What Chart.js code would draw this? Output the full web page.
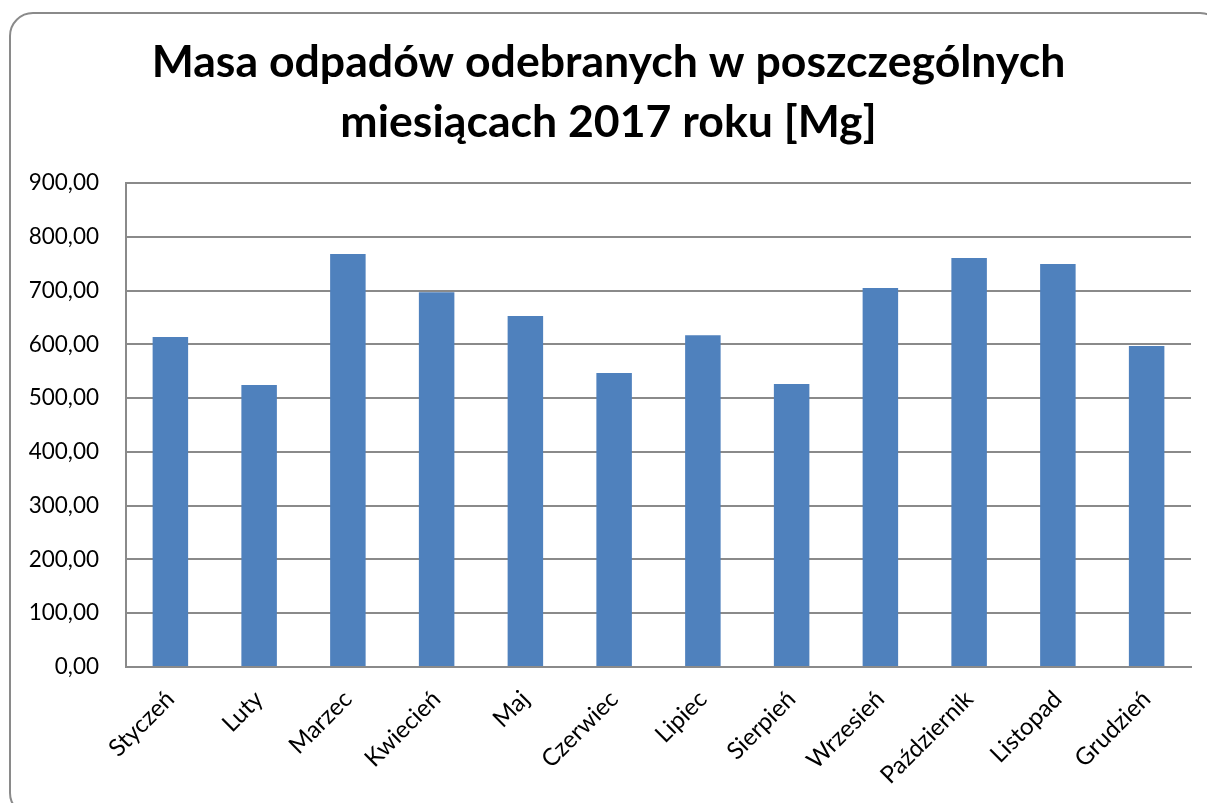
<!DOCTYPE html>
<html lang="pl">
<head>
  <meta charset="UTF-8" />
  <title>Masa odpadów 2017</title>
  <script src="https://cdn.jsdelivr.net/npm/chart.js"></script>
  <style>
    html, body { margin: 0; padding: 0; background: #fff; overflow: hidden; }
    /* Ramka wykresu z zaokrąglonymi rogami */
    .frame {
      position: absolute;
      left: 9px; top: 12px;
      width: 1215px; height: 805px;
      border: 2px solid #8a8a8a;
      border-radius: 24px;
      box-sizing: border-box;
    }
    #wrap { position: absolute; left: 0; top: 0; width: 1207px; height: 803px; }
  </style>
</head>
<body>
  <div class="frame"></div>
  <div id="wrap"><canvas id="chart"></canvas></div>

  <script>
    // Dane
    const miesiace = ['Styczeń', 'Luty', 'Marzec', 'Kwiecień', 'Maj', 'Czerwiec',
      'Lipiec', 'Sierpień', 'Wrzesień', 'Październik', 'Listopad', 'Grudzień'];
    const masa = [613.5, 524.2, 768.0, 697.0, 652.6, 546.5, 617.0, 526.0, 704.7, 760.5, 749.3, 596.8];
    const osY = { min: 0, max: 900, krok: 100 };
    const tytul = ['Masa odpadów odebranych w poszczególnych', 'miesiącach 2017 roku [Mg]'];

    const font = "Lato, 'Open Sans', sans-serif";
    const szary = '#8a8a8a';

    new Chart(document.getElementById('chart'), {
      type: 'bar',
      data: {
        labels: miesiace,
        datasets: [{
          data: masa,
          backgroundColor: '#4F81BD',
          barPercentage: 0.8,
          categoryPercentage: 0.5
        }]
      },
      options: {
        responsive: true,
        maintainAspectRatio: false,
        animation: false,
        // lewy margines przesuwa środek tytułu w prawo, jak w oryginale
        layout: { padding: { left: 26, right: 16, top: 0, bottom: 0 } },
        plugins: {
          legend: { display: false },
          tooltip: { enabled: false },
          title: {
            display: true,
            text: tytul,
            color: '#000',
            font: { family: font, size: 44.6, weight: 'bold', lineHeight: 1.345 },
            padding: { top: 33, bottom: 30 }
          }
        },
        scales: {
          x: {
            grid: { display: false, drawTicks: false },
            border: { color: szary, width: 2 },
            ticks: {
              color: '#000',
              font: { family: font, size: 24 },
              minRotation: 45,
              maxRotation: 45,
              padding: 18
            },
            afterFit: (s) => { s.height = 136; }
          },
          y: {
            min: osY.min,
            max: osY.max,
            grid: { color: szary, lineWidth: 2, drawTicks: false },
            border: { color: szary, width: 2 },
            ticks: {
              stepSize: osY.krok,
              color: '#000',
              font: { family: font, size: 22.5 },
              padding: 27,
              callback: (v) => v.toFixed(2).replace('.', ',')
            },
            afterFit: (s) => { s.width = 100; }
          }
        }
      }
    });
  </script>
</body>
</html>
